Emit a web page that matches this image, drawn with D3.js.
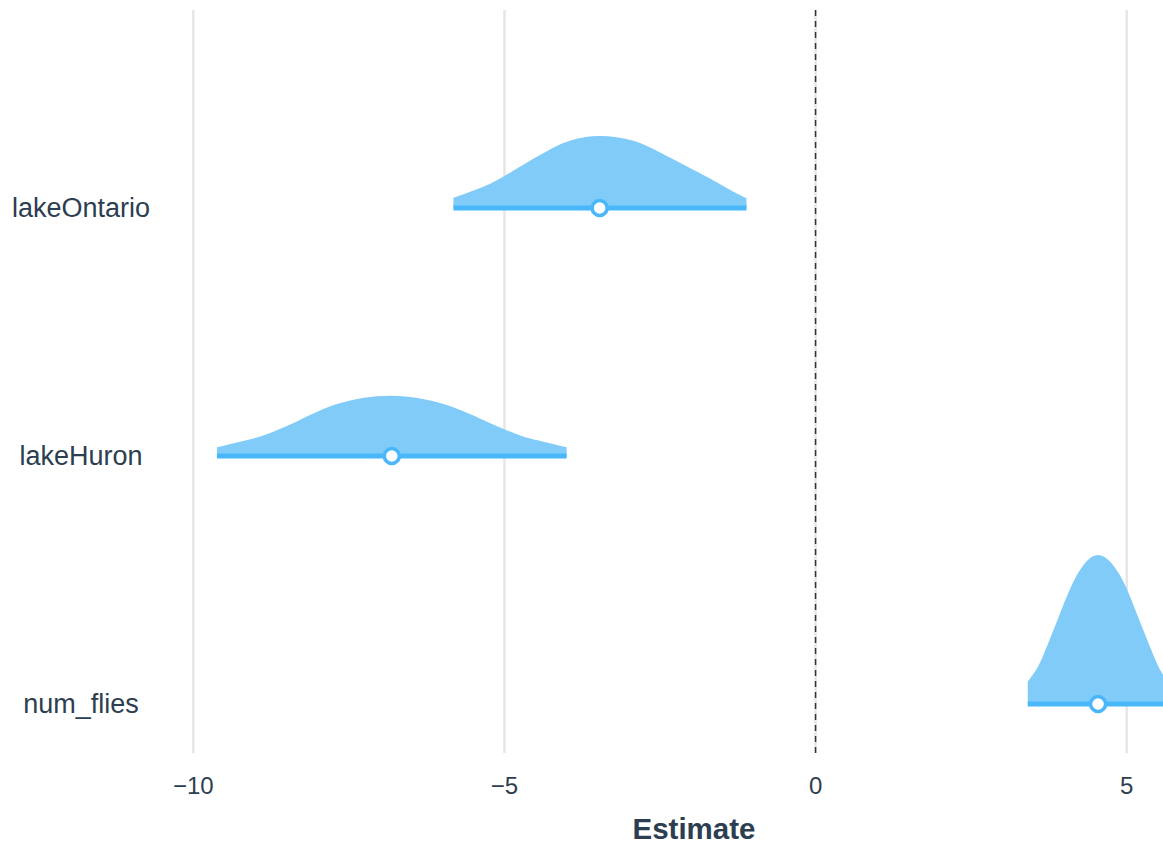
<!DOCTYPE html>
<html>
<head>
<meta charset="utf-8">
<script src="https://cdn.jsdelivr.net/npm/d3@7"></script>
<style>
  body { margin: 0; background: #fff; }
  text { font-family: "Liberation Sans", Arial, sans-serif; }
</style>
</head>
<body>
<div id="chart"></div>
<script>
const terms = ["lakeOntario", "lakeHuron", "num_flies"];
const pointEst = [-3.47, -6.81, 4.54];
const ciLow = [-5.82, -9.62, 3.41];
const ciHigh = [-1.11, -4.00, 5.66];

// density curves (estimate, density)
const densOntarioX = [-5.82, -5.39, -5.02, -4.43, -3.95, -3.47, -2.93, -2.39, -1.75, -1.40, -1.11];
const densOntarioY = [0.047, 0.092, 0.144, 0.244, 0.310, 0.332, 0.310, 0.240, 0.144, 0.088, 0.045];
const densHuronX = [-9.62, -9.20, -8.82, -8.29, -7.65, -6.81, -5.98, -5.34, -4.80, -4.42, -4.00];
const densHuronY = [0.040, 0.069, 0.100, 0.166, 0.243, 0.278, 0.240, 0.166, 0.100, 0.069, 0.040];
const densFliesX = [3.41, 3.53, 3.66, 3.93, 4.20, 4.54, 4.89, 5.16, 5.43, 5.55, 5.66];
const densFliesY = [0.103, 0.151, 0.225, 0.418, 0.594, 0.687, 0.594, 0.418, 0.225, 0.151, 0.103];

const xTicks = [-10, -5, 0, 5];

const width = 1163, height = 845;
const panel = { left: 160, right: 1163, top: 10, bottom: 753 };

const svg = d3.select("#chart")
    .append("svg")
    .attr("width", width)
    .attr("height", height);

const x = d3.scaleLinear()
    .domain([-10, 5])
    .range([193.3, 1126.7]);

const y = d3.scalePoint()
    .domain(terms)
    .range([208, 704]);

const h = d3.scaleLinear()
    .domain([0, 1])
    .range([0, 217]);

svg.append("defs").append("clipPath")
    .attr("id", "panel")
    .append("rect")
    .attr("x", panel.left)
    .attr("y", panel.top)
    .attr("width", panel.right - panel.left)
    .attr("height", panel.bottom - panel.top);

// grid
svg.append("g")
    .selectAll("line")
    .data(xTicks)
    .enter().append("line")
    .attr("x1", d => x(d))
    .attr("x2", d => x(d))
    .attr("y1", panel.top)
    .attr("y2", panel.bottom)
    .attr("stroke", "#e5e5e5")
    .attr("stroke-width", 2.4);

// zero line
svg.append("line")
    .attr("x1", x(0))
    .attr("x2", x(0))
    .attr("y1", panel.top)
    .attr("y2", panel.bottom)
    .attr("stroke", "#333")
    .attr("stroke-width", 1.5)
    .attr("stroke-dasharray", "6,5");

const dens = [
    d3.zip(densOntarioX, densOntarioY),
    d3.zip(densHuronX, densHuronY),
    d3.zip(densFliesX, densFliesY)
];

const plot = svg.append("g").attr("clip-path", "url(#panel)");

terms.forEach((term, i) => {
    const base = y(term);
    const area = d3.area()
        .x(d => x(d[0]))
        .y0(base)
        .y1(d => base - h(d[1]))
        .curve(d3.curveNatural);

    plot.append("path")
        .datum(dens[i])
        .attr("d", area)
        .attr("fill", "#81cbf9");

    plot.append("line")
        .attr("x1", x(ciLow[i]))
        .attr("x2", x(ciHigh[i]))
        .attr("y1", base)
        .attr("y2", base)
        .attr("stroke", "#4ab7fb")
        .attr("stroke-width", 5);

    plot.append("circle")
        .attr("cx", x(pointEst[i]))
        .attr("cy", base)
        .attr("r", 7.5)
        .attr("fill", "white")
        .attr("stroke", "#4ab7fb")
        .attr("stroke-width", 3.5);
});

// y labels
svg.append("g")
    .selectAll("text")
    .data(terms)
    .enter().append("text")
    .attr("x", 81)
    .attr("y", d => y(d))
    .attr("dy", "0.35em")
    .attr("text-anchor", "middle")
    .style("fill", "#2c3e50")
    .style("font-size", "27px")
    .text(d => d);

// x tick labels
svg.append("g")
    .selectAll("text")
    .data(xTicks)
    .enter().append("text")
    .attr("x", d => x(d))
    .attr("y", 786)
    .attr("dy", "0.35em")
    .attr("text-anchor", "middle")
    .style("fill", "#2c3e50")
    .style("font-size", "24px")
    .text(d => d3.format("")(d).replace("-", "\u2212"));

svg.append("text")
    .attr("x", 694)
    .attr("y", 829)
    .attr("dy", "0.35em")
    .attr("text-anchor", "middle")
    .style("fill", "#2c3e50")
    .style("font-size", "29.5px")
    .style("font-weight", "bold")
    .text("Estimate");
</script>
</body>
</html>
